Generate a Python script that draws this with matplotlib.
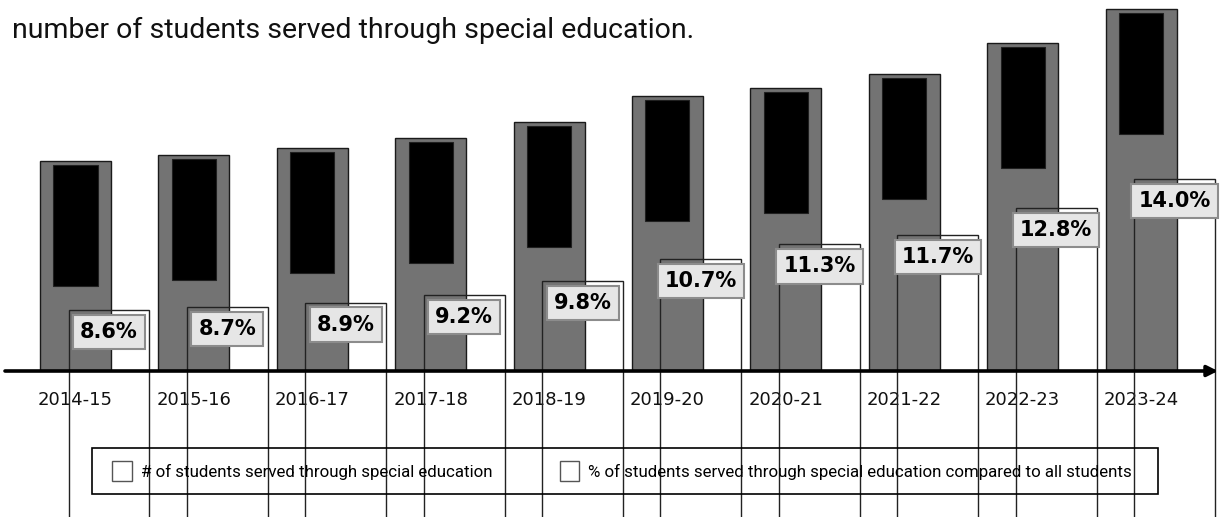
import numpy as np
import matplotlib
matplotlib.use('Agg')
import matplotlib.pyplot as plt
from matplotlib.patches import Patch, Rectangle
from matplotlib.legend_handler import HandlerPatch

# School years and the two series shown in the chart
years = ['2014-15', '2015-16', '2016-17', '2017-18', '2018-19',
         '2019-20', '2020-21', '2021-22', '2022-23', '2023-24']
students_served = [210300, 216300, 223000, 233000, 249000,
                   275000, 283000, 297000, 328300, 362000]
pct_served = [8.6, 8.7, 8.9, 9.2, 9.8, 10.7, 11.3, 11.7, 12.8, 14.0]

title = 'number of students served through special education.'
legend_labels = ['# of students served through special education',
                 '% of students served through special education compared to all students']

W, H = 1225, 517
fig = plt.figure(figsize=(W / 100, H / 100), dpi=100)
ax = fig.add_axes([0, 146 / H, 1, 371 / H])

x = np.arange(len(years))
ax.set_xlim(-0.6377, 9.709)
ax.set_ylim(0, 371000)

# gray count bars with a black block inside near the top
ax.bar(x, students_served, width=0.6, color='#737373', edgecolor='#1a1a1a',
       linewidth=1, zorder=2)
inner_top = np.array(students_served) - 4000
ax.bar(x, 121000, bottom=inner_top - 121000, width=0.372, color='black',
       edgecolor='#202020', linewidth=0.8, zorder=3)

for s in ax.spines.values():
    s.set_visible(False)
ax.set_yticks([])
ax.set_xticks(x)
ax.set_xticklabels(years, fontsize=13, family='DejaVu Sans', color='#111111')
ax.tick_params(axis='x', length=0, pad=14.5)

# percentage bars: outline only, running down past the axis
ax2 = ax.twinx()
ax2.set_ylim(6.07, 6.07 + 371 / 24.2)
for s in ax2.spines.values():
    s.set_visible(False)
ax2.set_yticks([])
ax2.bar(x + 0.283, pct_served, width=0.684, fill=False, edgecolor='#222222',
        linewidth=1, clip_on=False, zorder=4)
for xi, p in zip(x, pct_served):
    ax2.annotate(f'{p:.1f}%', xy=(xi + 0.283, p), xytext=(0, -22),
                 textcoords='offset pixels', ha='center', va='center',
                 fontsize=15, fontweight='bold', family='DejaVu Sans',
                 bbox=dict(boxstyle='square,pad=0.34', fc='#e6e6e6',
                           ec='#8c8c8c', lw=1.5), zorder=6)

# baseline with arrow head
ax2.annotate('', xy=(1218, 146), xytext=(5, 146), xycoords='figure pixels',
             textcoords='figure pixels',
             arrowprops=dict(arrowstyle='-|>', lw=2.6, color='black',
                             mutation_scale=16, shrinkA=0, shrinkB=0),
             zorder=7)

fig.text(12 / W, (H - 38) / H, title, fontsize=20.5, family='Roboto',
         va='baseline', ha='left', color='#111111')


def square_handle(legend, orig_handle, xdescent, ydescent, width, height, fontsize):
    return Rectangle((-xdescent + width - height, -ydescent), height, height)


handles = [Patch(facecolor='white', edgecolor='#555555', linewidth=1)
           for _ in legend_labels]
leg = fig.legend(handles, legend_labels, ncol=2, mode='expand',
                 loc='center',
                 bbox_to_anchor=(96 / W, 22.7 / H, 1048 / W, 46.6 / H),
                 bbox_transform=fig.transFigure,
                 prop={'family': 'Roboto', 'size': 12.2},
                 handler_map={Patch: HandlerPatch(patch_func=square_handle)},
                 handlelength=1.4, handleheight=1.36, handletextpad=0.55,
                 borderpad=0.7, borderaxespad=0, frameon=False)
fig.patches.append(Rectangle((92 / W, 22.7 / H), 1066 / W, 46.6 / H,
                             transform=fig.transFigure, fill=False,
                             edgecolor='black', linewidth=1.2))

fig.savefig('out.png', dpi=100)
